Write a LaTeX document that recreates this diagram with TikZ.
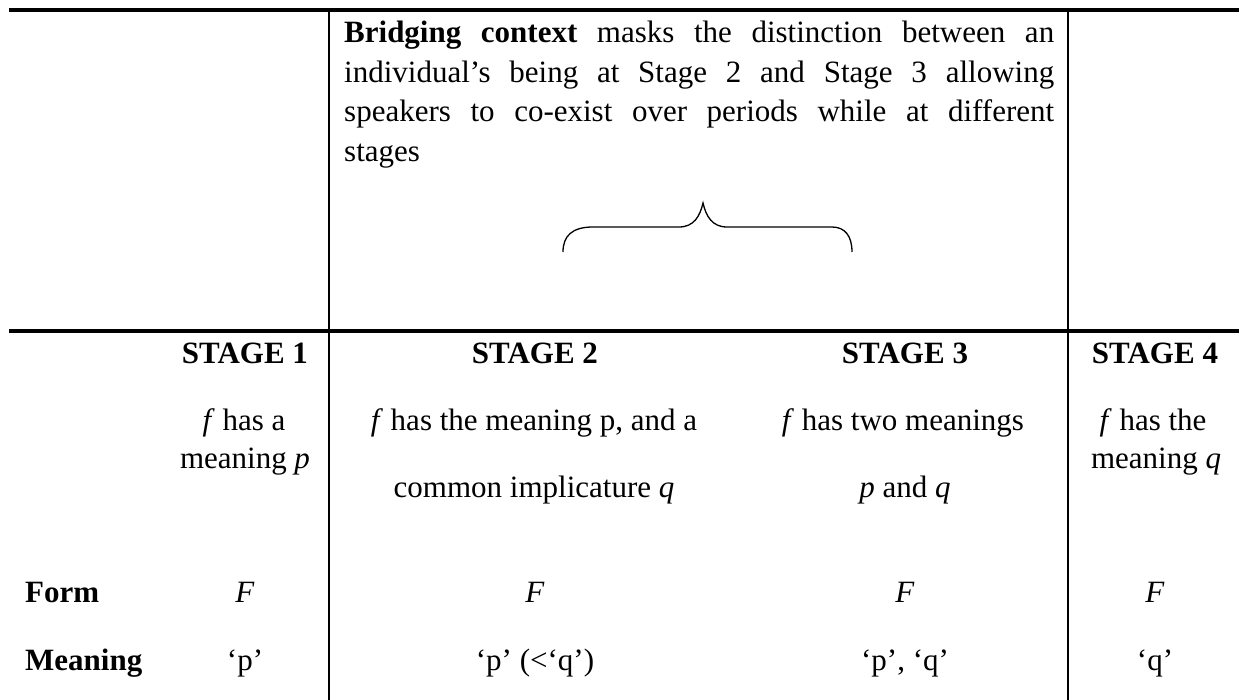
\documentclass[tikz,border=0pt]{standalone}
\usepackage{fontspec}
\setmainfont{Liberation Serif}
\begin{document}
\begin{tikzpicture}[x=1pt,y=-1pt,
  txt/.style={inner sep=0pt,anchor=base,font=\fontsize{31}{38}\selectfont},
  lbl/.style={inner sep=0pt,anchor=base west,font=\fontsize{31}{38}\selectfont\bfseries},
  head/.style={inner sep=0pt,anchor=base,font=\fontsize{31}{38}\selectfont\bfseries},
  thickrule/.style={line width=3.3pt},
  thinrule/.style={line width=1.3pt},
  bracestyle/.style={line width=1.3pt}]
\useasboundingbox (0,0) rectangle (1239,700);
% rules
\coordinate (tl) at (9,10);
\coordinate (tr) at (1239,10);
\coordinate (ml) at (9,331);
\coordinate (mr) at (1239,331);
\coordinate (v1t) at (329,10);
\coordinate (v1b) at (329,700);
\coordinate (v2t) at (1068,10);
\coordinate (v2b) at (1068,700);
\draw[thickrule] (tl) -- (tr);
\draw[thickrule] (ml) -- (mr);
\draw[thinrule] (v1t) -- (v1b);
\draw[thinrule] (v2t) -- (v2b);
% bridging paragraph
\node[inner sep=0pt,anchor=base west] (para) at (344,43)
  {\fontsize{31}{39.5}\selectfont\hyphenpenalty=10000
   \parbox[t]{710pt}{\textbf{Bridging context} masks the distinction between an\linebreak
   individual's being at Stage 2 and Stage 3 allowing\linebreak
   speakers to co-exist over periods while at different\linebreak
   stages}};
% brace
\coordinate (bl) at (563,252);
\coordinate (br) at (852,252);
\coordinate (btip) at (703,203);
\draw[bracestyle] (bl) .. controls (563,236) and (572,227) .. (593,227) -- (679,227)
  .. controls (694,227) and (700,216) .. (btip)
  .. controls (706,216) and (712,227) .. (727,227) -- (832,227)
  .. controls (845,227) and (852,236) .. (br);
% stage headers
\node[head] (s1) at (245,363) {STAGE 1};
\node[head] (s2) at (535,363) {STAGE 2};
\node[head] (s3) at (905,363) {STAGE 3};
\node[head] (s4) at (1155,363) {STAGE 4};
% descriptions
\node[txt] (d1a) at (244,430) {\textit{f} has a};
\node[txt] (d1b) at (245,468) {meaning \textit{p}};
\node[txt] (d2a) at (534,430) {\textit{f} has the meaning p, and a};
\node[txt] (d2b) at (534,497) {common implicature \textit{q}};
\node[txt] (d3a) at (903,430) {\textit{f} has two meanings};
\node[txt] (d3b) at (905,497) {\textit{p} and \textit{q}};
\node[txt] (d4a) at (1153,430) {\textit{f} has the};
\node[txt] (d4b) at (1156,468) {meaning \textit{q}};
% rows
\node[lbl] (form) at (25,602) {Form};
\node[lbl] (mean) at (25,670) {Meaning};
\node[txt] (f1) at (245,602) {\textit{F}};
\node[txt] (f2) at (535,602) {\textit{F}};
\node[txt] (f3) at (905,602) {\textit{F}};
\node[txt] (f4) at (1155,602) {\textit{F}};
\node[txt] (m1) at (245,670) {`p'};
\node[txt] (m2) at (535,670) {`p' (<`q')};
\node[txt] (m3) at (905,670) {`p', `q'};
\node[txt] (m4) at (1155,670) {`q'};
\end{tikzpicture}
\end{document}
